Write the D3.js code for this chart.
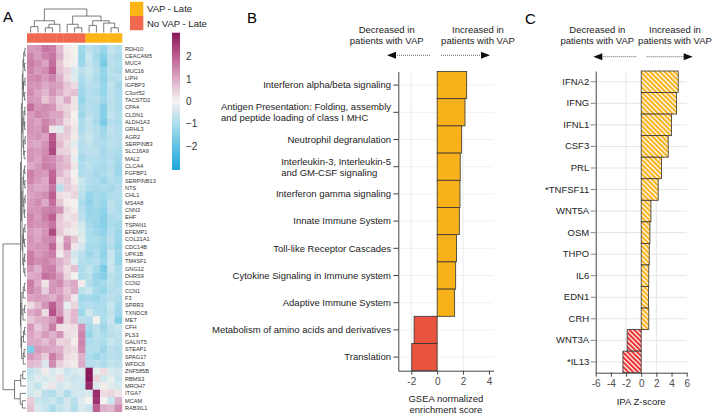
<!DOCTYPE html>
<html>
<head>
<meta charset="utf-8">
<script src="https://cdn.jsdelivr.net/npm/d3@7"></script>
<style>
  body { margin: 0; background: #fff; }
  svg { font-family: "Liberation Sans", Arial, sans-serif; }
</style>
</head>
<body>
<svg id="fig" width="720" height="416"></svg>
<script>
// ---------- data: panel A (heatmap) ----------
const genes = ["RDH10","CEACAM5","MUC4","MUC16","LIPH","IGFBP3","C3orf52","TACSTD2","CPA4","CLDN1",
  "ALDH1A3","GRHL3","AGR2","SERPINB3","SLC16A9","MAL2","CLCA4","FGFBP1","SERPINB13","NTS",
  "CHL1","MS4A8","CNN3","EHF","TSPAN1","EFEMP1","COL21A1","CDC14B","UPK1B","TM4SF1",
  "GNG12","DHRS9","CCN2","CCN1","F3","SPRR3","TXNDC8","MET","CFH","PLS3",
  "GALNT5","STEAP1","SPAG17","WFDC6","ZNF585B","RBMS3","MROH7","ITGA7","MCAM","RAB3IL1"];
const sampleGroup = ["No VAP - Late","No VAP - Late","No VAP - Late","No VAP - Late","No VAP - Late",
  "No VAP - Late","No VAP - Late","No VAP - Late","VAP - Late","VAP - Late","VAP - Late","VAP - Late","VAP - Late"];
const groupNames = ["VAP - Late", "No VAP - Late"];
const heat = [
  [1.2,1.3,1.7,1.6,0.8,0.1,0.0,-1.2,-0.8,-1.0,-1.3,-0.7,-0.9],
  [1.5,1.2,1.5,1.7,0.9,0.2,0.0,-1.3,-0.6,-1.1,-1.5,-0.8,-1.0],
  [1.6,1.4,1.1,1.8,0.6,0.1,-0.1,-1.2,-0.7,-1.0,-1.7,-0.8,-0.9],
  [1.5,1.2,1.4,2.0,0.7,0.4,-0.4,-0.8,-0.6,-0.9,-1.3,-0.8,-1.0],
  [1.4,1.5,1.2,1.5,0.9,0.3,-0.3,-1.0,-0.7,-1.0,-1.4,-0.9,-0.8],
  [1.3,1.3,1.0,1.2,1.1,0.6,0.3,-1.1,-0.8,-0.9,-1.3,-0.7,-1.1],
  [1.4,1.1,0.8,1.3,0.9,0.5,0.7,-1.2,-0.9,-1.0,-1.3,-0.8,-1.0],
  [1.3,1.2,0.6,1.0,0.4,1.0,0.2,-1.3,-0.9,-0.9,-1.2,-0.8,-1.0],
  [1.8,1.3,1.4,1.3,0.6,0.4,0.2,-1.1,-0.9,-1.0,-1.5,-0.8,-1.0],
  [1.2,1.5,1.3,1.1,1.1,0.5,0.0,-1.2,-0.8,-1.0,-1.5,-0.7,-0.9],
  [1.3,1.1,1.5,1.2,0.9,0.3,0.1,-1.0,-0.7,-1.1,-1.7,-0.9,-1.0],
  [1.3,1.2,1.6,0.2,-0.3,0.6,0.2,-1.0,-0.7,-0.9,-1.2,-0.7,-0.9],
  [1.2,1.3,1.1,2.1,0.6,0.5,0.1,-0.8,-0.6,-0.9,-1.1,-0.8,-0.9],
  [1.1,1.0,1.3,2.2,0.8,0.3,-0.3,-0.9,-0.7,-0.9,-1.0,-0.8,-0.9],
  [1.3,1.2,1.4,2.3,0.5,0.4,0.1,-0.9,-0.8,-0.8,-1.1,-0.9,-1.0],
  [1.3,1.1,1.5,1.4,1.0,0.7,-0.2,-1.1,-0.9,-0.9,-1.0,-0.9,-1.1],
  [1.0,1.2,1.6,1.5,0.9,0.8,0.2,-1.0,-0.8,-1.0,-1.1,-0.9,-1.2],
  [1.6,1.3,1.2,1.9,0.8,0.4,0.0,-1.0,-0.9,-1.1,-1.0,-0.8,-1.2],
  [1.5,1.2,1.0,2.0,0.4,0.6,0.1,-0.6,-0.9,-1.0,-1.2,-0.9,-1.0],
  [1.2,1.0,1.1,1.7,-0.8,0.5,0.3,-0.7,-1.0,-1.1,-1.0,-1.1,-0.9],
  [1.1,1.2,1.4,2.0,0.3,0.2,0.4,-0.8,-1.3,-1.1,-1.2,-1.0,-0.9],
  [1.2,1.4,1.0,1.8,0.6,0.1,0.0,-1.0,-1.4,-1.1,-1.3,-0.8,-1.0],
  [1.3,1.3,1.5,1.6,1.3,0.3,0.1,-0.9,-1.3,-1.2,-1.4,-0.8,-1.0],
  [1.5,1.2,1.6,2.0,0.6,0.2,0.3,-0.8,-1.2,-1.2,-1.5,-1.0,-0.9],
  [1.4,1.3,1.4,1.7,0.5,0.4,0.2,-0.5,-1.1,-1.3,-1.5,-1.0,-1.1],
  [1.2,1.0,1.3,2.3,0.6,0.2,0.1,-0.4,-1.0,-1.2,-1.4,-0.9,-1.2],
  [1.3,1.1,1.4,1.5,0.2,1.2,0.6,-0.3,-1.0,-1.0,-1.2,-0.8,-1.2],
  [1.2,1.3,1.3,1.9,0.3,1.4,0.2,-0.5,-1.1,-1.1,-1.3,-0.9,-1.3],
  [1.6,1.2,1.4,1.6,0.1,0.7,-0.5,-0.8,-1.2,-1.0,-1.4,-0.6,-1.2],
  [1.6,1.4,1.5,1.3,0.9,0.6,-0.3,-0.9,-1.0,-0.9,-1.2,-0.6,-1.3],
  [1.3,0.9,1.5,1.6,0.8,0.3,0.7,-1.0,-0.7,-1.1,-1.7,-0.6,-1.0],
  [1.0,1.1,1.8,1.6,1.2,0.4,0.0,-1.0,-0.8,-1.3,-1.5,-0.8,-1.0],
  [1.6,1.0,0.2,1.2,1.4,0.8,1.0,0.1,-0.9,-1.2,-1.1,-0.8,-1.0],
  [1.5,1.2,0.5,1.3,1.1,0.6,1.0,-0.8,-0.6,-1.1,-1.3,-0.9,-0.8],
  [1.1,1.2,1.1,0.9,1.3,0.8,0.2,-1.2,-1.1,-1.2,-1.0,-0.8,-1.0],
  [0.3,0.8,1.3,2.0,1.2,-0.2,0.4,-1.0,-0.9,-1.0,-1.0,-0.6,-1.1],
  [1.0,1.2,0.3,2.2,1.3,0.4,0.8,-1.2,-0.5,-0.9,-1.0,-0.7,-1.2],
  [0.6,0.9,1.0,1.2,2.0,0.4,0.8,-0.8,-0.9,0.0,-1.0,-0.6,-1.5],
  [1.2,0.6,0.9,1.6,0.3,0.2,0.3,1.3,-1.1,-0.8,-1.2,-0.7,-0.6],
  [1.1,0.8,1.2,0.9,1.3,0.3,0.2,1.5,-1.3,-0.8,-1.0,-0.8,-0.7],
  [1.0,1.0,0.7,1.1,0.4,0.5,0.1,1.5,-1.0,-0.9,-1.0,-0.6,-0.8],
  [-1.6,1.2,1.1,1.0,0.9,0.4,0.3,1.4,-0.9,-0.9,-1.2,-0.8,-0.9],
  [1.2,1.0,0.5,1.6,1.1,0.3,0.2,0.9,-1.0,-1.2,-1.0,-0.8,-0.9],
  [0.8,0.7,-0.4,1.4,0.5,0.2,0.1,1.0,-0.9,-0.8,-1.0,-0.7,-0.8],
  [-0.7,-0.5,0.1,-0.4,-0.2,-0.6,-0.4,-0.3,3.0,-0.2,0.3,-0.4,-0.5],
  [-0.6,-0.3,-0.4,-0.3,0.3,-0.4,-0.6,-0.5,3.0,0.4,-0.5,-0.2,-0.6],
  [-0.4,-0.7,-0.2,0.2,-0.5,-0.3,-0.5,-0.6,2.8,-0.4,0.1,-0.3,-0.4],
  [-0.5,-0.3,-0.8,-0.9,-0.5,-1.0,-0.5,-0.5,-0.4,2.7,0.3,0.4,0.2],
  [0.5,-0.6,-0.7,-0.6,-0.9,-0.5,-0.8,-0.3,0.0,2.6,0.0,-0.6,0.9],
  [0.7,-0.4,-0.6,-1.0,-0.7,-0.5,-0.9,-0.4,-0.6,2.0,0.9,0.8,1.4]
];
// dendrograms: [height, left, right], leaves are row / column indices
const rowTree = [10,
  [2.4,
    [2.0,
      [1.6, [1.3, [1.0,[0.5,0,1],[0.6,2,3]], [1.1,[0.45,4,5],[0.7,6,7]]],
            [1.3, [0.9,[0.5,8,9],[0.6,10,11]], [1.0,[0.4,12,13],[0.8,14,15]]]],
      [1.7, [1.3, [1.0,[0.6,16,17],[0.5,18,19]], [0.9,[0.4,20,21],[0.7,22,23]]],
            [1.4, [1.1,[0.5,24,25],[0.6,26,27]], [1.0,[0.6,28,29],[0.5,30,31]]]]],
    [2.2,
      [1.8, [1.2,[0.7,32,33],34], [1.3,[0.6,35,36],37]],
      [1.9, [1.1,[0.6,38,39],40], [1.2,[0.8,41,42],43]]]],
  [5, [2.3,[1.4,44,45],46], [2.5,47,[1.6,48,49]]]];
const colTree = [10,
  [5, [2.5,0,1], [3.5,[2,2,3],4]],
  [7, [3.5,5,[2,6,7]], [5,[3,8,9],[4,10,[2,11,12]]]]];
const colorTicks = [-2, -1, 0, 1, 2];

// ---------- data: panel B ----------
const gseaPaths = ["Interferon alpha/beta signaling",
  "Antigen Presentation: Folding, assembly\nand peptide loading of class I MHC",
  "Neutrophil degranulation",
  "Interleukin-3, Interleukin-5\nand GM-CSF signaling",
  "Interferon gamma signaling",
  "Innate Immune System",
  "Toll-like Receptor Cascades",
  "Cytokine Signaling in Immune system",
  "Adaptive Immune System",
  "Metabolism of amino acids and derivatives",
  "Translation"];
const gseaNES = [2.28, 2.15, 1.89, 1.78, 1.76, 1.71, 1.50, 1.43, 1.35, -1.78, -1.96];
const gseaTicks = [-2, 0, 2, 4];

// ---------- data: panel C ----------
const ipaRegs = ["IFNA2","IFNG","IFNL1","CSF3","PRL","*TNFSF11","WNT5A","OSM","THPO","IL6","EDN1","CRH","WNT3A","*IL13"];
const ipaZ = [4.88, 4.66, 4.0, 3.56, 2.68, 2.24, 1.28, 1.15, 1.06, 1.0, 0.97, 1.0, -1.85, -2.41];
const ipaTicks = [-6, -4, -2, 0, 2, 4, 6];

const ORANGE = "#F9B11A", RED = "#E9543F";
const svg = d3.select("#fig");

// ================= panel A =================
const gA = svg.append("g");
gA.append("text").attr("x", 3).attr("y", 22).attr("font-size", 15).text("A");

const hx = d3.scaleBand().domain(d3.range(sampleGroup.length)).range([27, 122]);
const hy = d3.scaleBand().domain(d3.range(genes.length)).range([45, 411.7]);
const heatColor = d3.scaleLinear()
  .domain([-3, -2, -1, 0, 1, 2, 3])
  .range(["#1ea8db", "#63c3e4", "#addcec", "#f4f2ee", "#dcaac6", "#bd5f93", "#8b1a5b"])
  .clamp(true);
const groupColor = d3.scaleOrdinal().domain(groupNames).range(["#FDB515", "#F0694E"]);

heat.forEach((row, i) => {
  gA.selectAll(null).data(row).enter().append("rect")
    .attr("x", (d, j) => hx(j)).attr("y", hy(i))
    .attr("width", hx.bandwidth() + 0.3).attr("height", hy.bandwidth() + 0.3)
    .attr("fill", d => heatColor(d));
});

// annotation bar
gA.selectAll(".ann").data(sampleGroup).enter().append("rect")
  .attr("x", (d, j) => hx(j)).attr("y", 33.3)
  .attr("width", hx.bandwidth() + 0.3).attr("height", 9.4)
  .attr("fill", d => groupColor(d));

// gene labels
gA.selectAll(".gl").data(genes).enter().append("text")
  .attr("x", 125).attr("y", (d, i) => hy(i) + hy.bandwidth() / 2)
  .attr("dy", "0.35em").attr("font-size", 5.6).attr("fill", "#333")
  .text(d => d);

// dendrograms
const rowH = d3.scaleLinear().domain([0, 10]).range([26, 3]);
const colH = d3.scaleLinear().domain([0, 10]).range([32.5, 9]);
function dendro(node, leafPos, hScale, g, rows) {
  if (typeof node === "number") return [leafPos(node), hScale(0)];
  const a = dendro(node[1], leafPos, hScale, g, rows);
  const b = dendro(node[2], leafPos, hScale, g, rows);
  const hc = hScale(node[0]);
  let pts = [[a[0], a[1]], [a[0], hc], [b[0], hc], [b[0], b[1]]];
  if (rows) pts = pts.map(p => [p[1], p[0]]);
  g.append("path").attr("d", d3.line()(pts))
    .attr("fill", "none").attr("stroke", "#444").attr("stroke-width", 0.7);
  return [(a[0] + b[0]) / 2, hc];
}
dendro(rowTree, i => hy(i) + hy.bandwidth() / 2, rowH, gA, true);
dendro(colTree, j => hx(j) + hx.bandwidth() / 2, colH, gA, false);

// group legend
groupNames.forEach((name, k) => {
  gA.append("rect").attr("x", 130).attr("y", 1.8 + k * 14.2)
    .attr("width", 13.3).attr("height", 14.2).attr("fill", groupColor(name));
  gA.append("text").attr("x", 147).attr("y", 9 + k * 14.2).attr("dy", "0.35em")
    .attr("font-size", 9.5).attr("fill", "#222").text(name);
});

// colour bar
const cb = d3.scaleLinear().domain([-3.07, 3.06]).range([170, 32.7]);
const grad = svg.append("defs").append("linearGradient").attr("id", "cbgrad")
  .attr("x1", 0).attr("y1", 1).attr("x2", 0).attr("y2", 0);
d3.range(-3, 3.01, 0.25).forEach(v => {
  grad.append("stop").attr("offset", (v + 3.07) / 6.13).attr("stop-color", heatColor(v));
});
gA.append("rect").attr("x", 172).attr("y", 32.7).attr("width", 8).attr("height", 137.3)
  .attr("fill", "url(#cbgrad)");
const cbAx = gA.append("g").attr("transform", "translate(180,0)")
  .call(d3.axisRight(cb).tickValues(colorTicks).tickSize(0).tickPadding(6).tickFormat(d3.format("d")));
cbAx.select(".domain").remove();
cbAx.selectAll("text").attr("font-size", 10).attr("fill", "#333")
  .attr("font-family", '"Liberation Sans", Arial, sans-serif');

// ================= shared helpers =================
function header(cx1, cx2, yArrow, l1, r1, l2, r2) {
  const g = svg.append("g").attr("font-size", 9.5).attr("fill", "#222");
  [[cx1, "Decreased in"], [cx2, "Increased in"]].forEach(([x, t]) =>
    g.append("text").attr("x", x).attr("y", 32.5).attr("text-anchor", "middle").text(t));
  [cx1, cx2].forEach(x =>
    g.append("text").attr("x", x).attr("y", 43.5).attr("text-anchor", "middle").text("patients with VAP"));
  // left arrow: dotted from l2 to l1 + head
  g.append("line").attr("x1", l1 + 8).attr("x2", l2).attr("y1", yArrow).attr("y2", yArrow)
    .attr("stroke", "#555").attr("stroke-width", 0.9).attr("stroke-dasharray", "1,1");
  g.append("path").attr("d", `M${l1},${yArrow}L${l1 + 9},${yArrow - 3.5}L${l1 + 9},${yArrow + 3.5}Z`).attr("fill", "#111");
  g.append("line").attr("x1", r1).attr("x2", r2 - 8).attr("y1", yArrow).attr("y2", yArrow)
    .attr("stroke", "#555").attr("stroke-width", 0.9).attr("stroke-dasharray", "1,1");
  g.append("path").attr("d", `M${r2},${yArrow}L${r2 - 9},${yArrow - 3.5}L${r2 - 9},${yArrow + 3.5}Z`).attr("fill", "#111");
}

function styleAxis(g) {
  g.selectAll(".domain").attr("stroke", "#444");
  g.selectAll("line").attr("stroke", "#444");
  g.selectAll("text").attr("font-family", '"Liberation Sans", Arial, sans-serif');
}

// ================= panel B =================
svg.append("text").attr("x", 247).attr("y", 23).attr("font-size", 15).text("B");
header(386.7, 478, 55.3, 387, 441, 431, 490);

const xB = d3.scaleLinear().domain([-3, 4.35]).range([398.3, 493.5]);
const yB = d3.scaleBand().domain(gseaPaths).range([71.5, 370.7]);
const gB = svg.append("g");

// grid
gB.selectAll(".hg").data(gseaPaths).enter().append("line")
  .attr("x1", xB.range()[0]).attr("x2", xB.range()[1])
  .attr("y1", d => yB(d) + yB.bandwidth() / 2).attr("y2", d => yB(d) + yB.bandwidth() / 2)
  .attr("stroke", "#ececec").attr("stroke-width", 0.8);
gB.selectAll(".vg").data([-2, 2]).enter().append("line")
  .attr("x1", d => xB(d)).attr("x2", d => xB(d))
  .attr("y1", yB.range()[0]).attr("y2", yB.range()[1])
  .attr("stroke", "#e6e6e6").attr("stroke-width", 0.8);

gB.selectAll(".bar").data(gseaNES).enter().append("rect")
  .attr("x", d => xB(Math.min(0, d))).attr("width", d => Math.abs(xB(d) - xB(0)))
  .attr("y", (d, i) => yB(gseaPaths[i])).attr("height", yB.bandwidth())
  .attr("fill", d => d > 0 ? ORANGE : RED)
  .attr("stroke", "#333").attr("stroke-width", 0.8);

const axBx = gB.append("g").attr("transform", `translate(0,${yB.range()[1]})`)
  .call(d3.axisBottom(xB).tickValues(gseaTicks).tickSize(4).tickSizeOuter(0).tickPadding(3).tickFormat(d => String(d)));
axBx.selectAll("text").attr("font-size", 10).attr("fill", "#4d4d4d");
styleAxis(axBx);
const axBy = gB.append("g").attr("transform", `translate(${xB.range()[0]},0)`)
  .call(d3.axisLeft(yB).tickSize(5).tickSizeOuter(0).tickFormat(""));
styleAxis(axBy);

// wrapped path labels, block right-aligned and lines left-aligned
gseaPaths.forEach(p => {
  const lines = p.split("\n");
  const cy = yB(p) + yB.bandwidth() / 2;
  const t = gB.append("text").attr("font-size", 9.5).attr("fill", "#222");
  const spans = lines.map((ln, k) => t.append("tspan")
    .attr("y", cy + (k - (lines.length - 1) / 2) * 11).attr("dy", "0.35em").text(ln));
  const w = d3.max(spans, s => s.node().getComputedTextLength());
  spans.forEach(s => s.attr("x", 391 - w));
});

gB.append("text").attr("x", (xB.range()[0] + xB.range()[1]) / 2).attr("y", 401.5)
  .attr("text-anchor", "middle").attr("font-size", 9.5).attr("fill", "#222").text("GSEA normalized");
gB.append("text").attr("x", (xB.range()[0] + xB.range()[1]) / 2).attr("y", 412.5)
  .attr("text-anchor", "middle").attr("font-size", 9.5).attr("fill", "#222").text("enrichment score");

// ================= panel C =================
svg.append("text").attr("x", 525).attr("y", 24).attr("font-size", 15).text("C");
header(597.3, 675, 56.7, 593.3, 646.7, 636.7, 692.7);

const defs = svg.select("defs");
[["hatchO", ORANGE], ["hatchR", "#E8302E"]].forEach(([id, c]) => {
  const pat = defs.append("pattern").attr("id", id).attr("patternUnits", "userSpaceOnUse")
    .attr("width", 3.4).attr("height", 3.4).attr("patternTransform", "rotate(-45)");
  pat.append("rect").attr("width", 3.4).attr("height", 3.4).attr("fill", "#fff");
  pat.append("rect").attr("width", 2.1).attr("height", 3.4).attr("fill", c);
});

const xC = d3.scaleLinear().domain([-6, 6]).range([595.7, 686.7]);
const yC = d3.scaleBand().domain(ipaRegs).range([71, 372.7]);
const gC = svg.append("g");

gC.selectAll(".hg").data(ipaRegs).enter().append("line")
  .attr("x1", xC.range()[0]).attr("x2", xC.range()[1])
  .attr("y1", d => yC(d) + yC.bandwidth() / 2).attr("y2", d => yC(d) + yC.bandwidth() / 2)
  .attr("stroke", "#dedede").attr("stroke-width", 0.8);
gC.selectAll(".vg").data([-2, 2]).enter().append("line")
  .attr("x1", d => xC(d)).attr("x2", d => xC(d))
  .attr("y1", yC.range()[0]).attr("y2", yC.range()[1])
  .attr("stroke", "#dedede").attr("stroke-width", 0.8);

gC.selectAll(".bar").data(ipaZ).enter().append("rect")
  .attr("x", d => xC(Math.min(0, d))).attr("width", d => Math.abs(xC(d) - xC(0)))
  .attr("y", (d, i) => yC(ipaRegs[i])).attr("height", yC.bandwidth())
  .attr("fill", d => d > 0 ? "url(#hatchO)" : "url(#hatchR)")
  .attr("stroke", "#333").attr("stroke-width", 0.8);

const axCx = gC.append("g").attr("transform", `translate(0,${yC.range()[1]})`)
  .call(d3.axisBottom(xC).tickValues(ipaTicks).tickSize(4).tickSizeOuter(0).tickPadding(3).tickFormat(d => String(d)));
axCx.selectAll("text").attr("font-size", 10).attr("fill", "#4d4d4d");
styleAxis(axCx);
const axCy = gC.append("g").attr("transform", `translate(${xC.range()[0]},0)`)
  .call(d3.axisLeft(yC).tickSize(5).tickSizeOuter(0).tickPadding(1.5));
axCy.selectAll("text").attr("font-size", 9.5).attr("fill", "#222");
styleAxis(axCy);
axCy.selectAll(".tick line").attr("stroke", "#888");

gC.append("text").attr("x", (xC.range()[0] + xC.range()[1]) / 2).attr("y", 405)
  .attr("text-anchor", "middle").attr("font-size", 9.5).attr("fill", "#222").text("IPA Z-score");
</script>
</body>
</html>
